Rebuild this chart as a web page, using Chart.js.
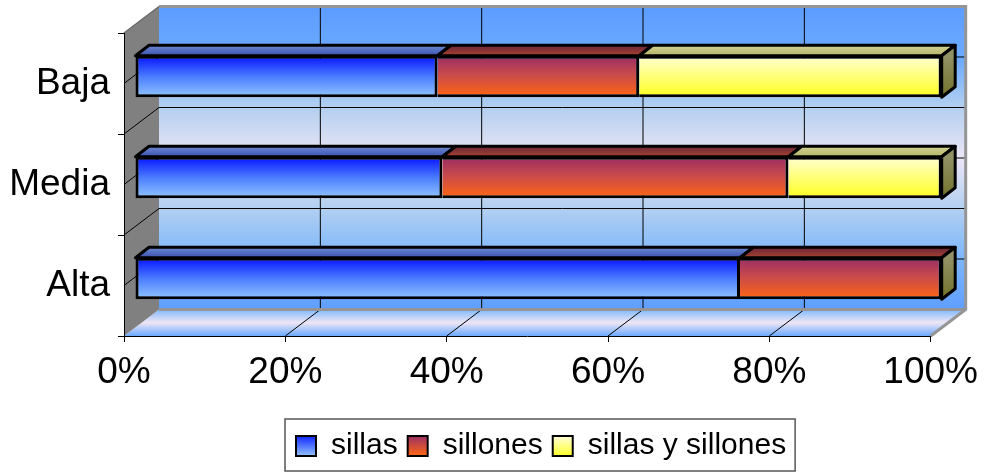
<!DOCTYPE html>
<html>
<head>
<meta charset="utf-8">
<script src="https://cdn.jsdelivr.net/npm/chart.js@4.4.1/dist/chart.umd.min.js"></script>
<style>
  html, body { margin: 0; padding: 0; background: #ffffff; }
  #wrap { width: 987px; height: 472px; }
</style>
</head>
<body>
<div id="wrap"><canvas id="chart" width="987" height="472"></canvas></div>
<script>
// ---- data ----
const categories = ['Baja', 'Media', 'Alta'];
const seriesNames = ['sillas', 'sillones', 'sillas y sillones'];
const sillas = [37.5, 38.1, 75];
const sillones = [25, 42.9, 25];
const sillasYSillones = [37.5, 19.0, 0];
const xTickValues = [0, 20, 40, 60, 80, 100];

// ---- styling ----
const FONT = '"Liberation Sans", Arial, Helvetica, sans-serif';
const WALL = { dx: 35, dy: -26.5 };      // depth of the box behind the plot
const BAR_SHIFT = { dx: 11, dy: -7 };     // bar front faces sit a little inside the box
const BAR_DEPTH = { dx: 13.5, dy: -10.5 };// thickness of each bar in depth
const BAR_PCT = 0.41;

const frontStops = [
  [[0, '#0612ff'], [0.5, '#4a7cff'], [1, '#92c6ff']],
  [[0, '#9a2e64'], [0.45, '#c84a4c'], [1, '#ff6612']],
  [[0, '#ffffd2'], [1, '#ffff1e']]
];
const topStops = [
  [[0, '#6e8ad0'], [1, '#3a50b0']],
  [[0, '#6a2638'], [1, '#a84230']],
  [[0, '#d2d296'], [1, '#b4b466']]
];
const sideStops = [[0, '#929266'], [1, '#72722a']];
const legendStops = [
  [[0, '#1026ff'], [1, '#94c4ff']],
  [[0, '#9c3064'], [1, '#ff6812']],
  [[0, '#ffffd8'], [1, '#ffff28']]
];

function vGrad(ctx, y0, y1, stops) {
  const g = ctx.createLinearGradient(0, y0, 0, y1);
  stops.forEach(([o, c]) => g.addColorStop(o, c));
  return g;
}

// Vertical gradient for each bar, built from the category scale
function frontFill(seriesIndex) {
  return (c) => {
    const chart = c.chart;
    const y = chart.scales && chart.scales.y;
    if (!chart.chartArea || !y) return frontStops[seriesIndex][1][1];
    const centre = y.getPixelForValue(c.dataIndex);
    const half = (y.height / categories.length) * BAR_PCT / 2;
    return vGrad(chart.ctx, centre - half, centre + half, frontStops[seriesIndex]);
  };
}

function poly(ctx, pts) {
  ctx.beginPath();
  ctx.moveTo(pts[0][0], pts[0][1]);
  for (let i = 1; i < pts.length; i++) ctx.lineTo(pts[i][0], pts[i][1]);
  ctx.closePath();
}

// Box walls, floor, gridlines and the depth faces of the bars
const scene3d = {
  id: 'scene3d',
  afterLayout(chart) {
    // place the legend row where it belongs under the plot
    const lg = chart.legend;
    if (!lg || !lg.lineWidths) return;
    const pad = lg.options.labels.padding;
    const start = (lg.left + pad + lg.right - lg.lineWidths[0]) / 2;
    const shift = 296 - start;
    lg.left += shift;
    lg.right += shift;
  },
  beforeDraw(chart) {
    const { ctx, chartArea: a, scales: { x, y } } = chart;
    const L = a.left, R = a.right, T = a.top, B = a.bottom;
    const dx = WALL.dx, dy = WALL.dy;

    ctx.save();
    // back wall
    ctx.fillStyle = vGrad(ctx, T + dy, B + dy, [
      [0, '#5c9cff'], [0.18, '#6eacff'], [0.33, '#b2cfef'], [0.5, '#ece6f6'],
      [0.66, '#b4d0f0'], [0.82, '#80b8fb'], [1, '#5e9eff']
    ]);
    ctx.fillRect(L + dx, T + dy, R - L, B - T);

    // floor
    ctx.fillStyle = vGrad(ctx, B + dy, B, [[0, '#80b8fc'], [0.5, '#eee6f4'], [1, '#6aa8ff']]);
    poly(ctx, [[L, B], [R, B], [R + dx, B + dy], [L + dx, B + dy]]);
    ctx.fill();

    // side wall
    ctx.fillStyle = '#808080';
    poly(ctx, [[L, T], [L + dx, T + dy], [L + dx, B + dy], [L, B]]);
    ctx.fill();

    ctx.strokeStyle = '#000';
    ctx.lineWidth = 1;
    // horizontal gridlines at every half category, on back and side walls
    for (let v = -0.5; v <= categories.length - 0.5 + 1e-9; v += 0.5) {
      const py = y.getPixelForValue(v);
      if (py <= T + 0.5 || py >= B - 0.5) continue;
      ctx.beginPath();
      ctx.moveTo(L, py);
      ctx.lineTo(L + dx, py + dy);
      ctx.lineTo(R + dx, py + dy);
      ctx.stroke();
    }
    // value gridlines on the back wall and the floor
    xTickValues.forEach(v => {
      if (v <= 0 || v >= 100) return;
      const px = x.getPixelForValue(v);
      ctx.beginPath();
      ctx.moveTo(px, B);
      ctx.lineTo(px + dx, B + dy);
      ctx.lineTo(px + dx, T + dy);
      ctx.stroke();
    });

    // grey edges of the box
    ctx.strokeStyle = '#959595';
    ctx.lineWidth = 3;
    ctx.beginPath();
    ctx.moveTo(L + dx, T + dy);
    ctx.lineTo(R + dx, T + dy);
    ctx.lineTo(R + dx, B + dy);
    ctx.lineTo(R, B);
    ctx.stroke();
    ctx.beginPath();
    ctx.moveTo(L + dx, B + dy);
    ctx.lineTo(R + dx, B + dy);
    ctx.stroke();
    ctx.lineWidth = 1.5;
    ctx.strokeStyle = '#6a6a6a';
    ctx.beginPath();
    ctx.moveTo(L, T);
    ctx.lineTo(L + dx, T + dy);
    ctx.stroke();
    ctx.restore();

    // legend swatches get the same shading as the bars
    const lg = chart.legend;
    if (lg && lg.legendItems && lg.legendHitBoxes) {
      const lo = lg.options.labels;
      lg.legendItems.forEach((item, i) => {
        const hb = lg.legendHitBoxes[i];
        const top = hb.top + Math.max((lo.font.size - lo.boxHeight) / 2, 0);
        item.fillStyle = vGrad(ctx, top, top + lo.boxHeight, legendStops[i]);
        item.strokeStyle = '#000';
        item.lineWidth = 2;
      });
    }
  },
  beforeDatasetsDraw(chart) {
    const ctx = chart.ctx;
    ctx.save();
    ctx.translate(BAR_SHIFT.dx, BAR_SHIFT.dy);
    const n = chart.data.datasets.length;
    categories.forEach((cat, j) => {
      let last = -1;
      for (let i = 0; i < n; i++) if (chart.data.datasets[i].data[j] > 0) last = i;
      for (let i = 0; i < n; i++) {
        const el = chart.getDatasetMeta(i).data[j];
        if (!el) continue;
        const p = el.getProps(['x', 'y', 'base', 'height'], true);
        const left = Math.min(p.x, p.base), right = Math.max(p.x, p.base);
        if (right - left < 0.5) continue;
        const top = p.y - p.height / 2, bottom = p.y + p.height / 2;
        const ddx = BAR_DEPTH.dx, ddy = BAR_DEPTH.dy;
        ctx.lineWidth = 3;
        ctx.lineJoin = 'round';
        ctx.strokeStyle = '#000';
        ctx.fillStyle = vGrad(ctx, top + ddy, top, topStops[i]);
        poly(ctx, [[left, top], [right, top], [right + ddx, top + ddy], [left + ddx, top + ddy]]);
        ctx.fill();
        ctx.stroke();
        if (i === last) {
          ctx.fillStyle = vGrad(ctx, top, bottom, sideStops);
          poly(ctx, [[right, top], [right + ddx, top + ddy], [right + ddx, bottom + ddy], [right, bottom]]);
          ctx.fill();
          ctx.stroke();
        }
      }
    });
  },
  afterDatasetsDraw(chart) {
    chart.ctx.restore();
  },
  afterDraw(chart) {
    // frame round the legend
    const lg = chart.legend;
    if (!lg || !lg.legendHitBoxes || !lg.legendHitBoxes.length) return;
    const hbs = lg.legendHitBoxes;
    const first = hbs[0], lastHb = hbs[hbs.length - 1];
    const ctx = chart.ctx;
    ctx.save();
    ctx.strokeStyle = '#555';
    ctx.lineWidth = 1.5;
    const l = first.left - 11, r = lastHb.left + lastHb.width + 9;
    const t = first.top - 12, b = Math.min(first.top + 40, chart.height - 1);
    ctx.strokeRect(l, t, r - l, b - t);
    ctx.restore();
  }
};

const seriesData = [sillas, sillones, sillasYSillones];

new Chart(document.getElementById('chart'), {
  type: 'bar',
  data: {
    labels: categories,
    datasets: seriesNames.map((name, i) => ({
      label: name,
      data: seriesData[i],
      backgroundColor: frontFill(i),
      borderColor: '#000',
      borderWidth: 3,
      borderSkipped: i === 0 ? false : 'left',
      barPercentage: BAR_PCT,
      categoryPercentage: 1,
      clip: false
    }))
  },
  options: {
    indexAxis: 'y',
    responsive: false,
    animation: false,
    layout: { padding: { top: 33, right: 56, bottom: 1, left: 0 } },
    scales: {
      x: {
        stacked: true,
        min: 0,
        max: 100,
        afterBuildTicks: (s) => { s.ticks = xTickValues.map(v => ({ value: v })); },
        afterFit: (s) => { s.height = 85; },
        ticks: {
          callback: (v) => v + '%',
          color: '#000',
          font: { family: FONT, size: 37 },
          padding: 9,
          maxRotation: 0
        },
        grid: { drawOnChartArea: false, drawTicks: true, tickLength: 6, color: '#000' },
        border: { display: true, color: '#000', width: 1 }
      },
      y: {
        stacked: true,
        afterFit: (s) => { s.width = 124; },
        ticks: {
          color: '#000',
          font: { family: FONT, size: 37 },
          padding: 8
        },
        grid: { offset: true, drawOnChartArea: false, drawTicks: true, tickLength: 6, color: '#000' },
        border: { display: true, color: '#000', width: 1 }
      }
    },
    plugins: {
      legend: {
        position: 'bottom',
        labels: {
          boxWidth: 20,
          boxHeight: 20,
          padding: 10,
          color: '#000',
          font: { family: FONT, size: 30 }
        }
      },
      tooltip: { enabled: false }
    }
  },
  plugins: [scene3d]
});
</script>
</body>
</html>
